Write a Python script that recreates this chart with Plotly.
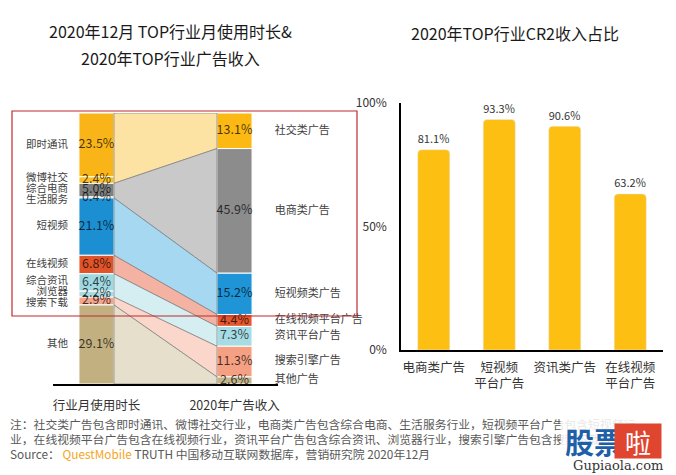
import plotly.graph_objects as go

W, H = 676, 475

# ---------------- data ----------------
left_cats = ["即时通讯", "微博社交", "综合电商", "生活服务", "短视频", "在线视频", "综合资讯", "浏览器", "搜索下载", "其他"]
left_vals = [23.5, 2.4, 5.0, 0.4, 21.1, 6.8, 6.4, 2.2, 2.9, 29.1]
left_group = [0, 0, 1, 1, 2, 3, 4, 4, 5, 6]
left_colors = ["#F9B417", "#FDC020", "#808080", "#8A8A8A", "#1B8FD1", "#E0542A", "#9FD8E0", "#A8DCE4", "#F4A58C", "#C2B080"]

right_cats = ["社交类广告", "电商类广告", "短视频类广告", "在线视频平台广告", "资讯平台广告", "搜索引擎广告", "其他广告"]
right_vals = [13.1, 45.9, 15.2, 4.4, 7.3, 11.3, 2.6]
right_colors = ["#FDB913", "#8C8C8C", "#1F94D6", "#E5572E", "#A8DCE4", "#F6A083", "#C5B48A"]
band_colors = ["#FCE3A4", "#C9C9C9", "#A6D8F2", "#F4B2A3", "#D5EEF2", "#FBD6CB", "#E5DFCC"]

col_labels = ["行业月使用时长", "2020年广告收入"]

cr2_cats = ["电商类广告", "短视频<br>平台广告", "资讯类广告", "在线视频<br>平台广告"]
cr2_vals = [81.1, 93.3, 90.6, 63.2]
cr2_ticks = [0, 50, 100]

FONT = "Noto Sans CJK SC, sans-serif"


def cum_starts(vals):
    s, out = 0.0, []
    for v in vals:
        out.append(s)
        s += v
    return out


def spread(centers, gap):
    pos = list(centers)
    for _ in range(200):
        moved = False
        for i in range(1, len(pos)):
            d = pos[i] - pos[i - 1]
            if d < gap - 1e-6:
                sh = (gap - d) / 2
                pos[i - 1] -= sh
                pos[i] += sh
                moved = True
        if not moved:
            break
    return pos


l_start = cum_starts(left_vals)
r_start = cum_starts(right_vals)
total = max(sum(left_vals), sum(right_vals))
bw = 0.254
unit_px = 271 / total  # pixels per percentage point of the stacked columns

fig = go.Figure()

# ---------------- flow bands ----------------
xl, xr = bw / 2, 1 - bw / 2
for g in range(len(right_vals)):
    idx = [i for i, gg in enumerate(left_group) if gg == g]
    lt = l_start[idx[0]]
    lb = l_start[idx[-1]] + left_vals[idx[-1]]
    rt = r_start[g]
    rb = r_start[g] + right_vals[g]
    fig.add_trace(go.Scatter(
        x=[xl, xr, xr, xl, xl], y=[lt, rt, rb, lb, lt],
        fill="toself", fillcolor=band_colors[g], mode="lines",
        line=dict(color="rgba(110,110,110,0.75)", width=0.8),
        hoverinfo="skip", showlegend=False, xaxis="x", yaxis="y"))

# ---------------- stacked columns ----------------
fig.add_trace(go.Bar(
    x=[0] * len(left_vals), y=left_vals, base=l_start, width=bw,
    marker=dict(color=left_colors, line=dict(color="white", width=1)),
    showlegend=False, hoverinfo="skip", xaxis="x", yaxis="y"))
fig.add_trace(go.Bar(
    x=[1] * len(right_vals), y=right_vals, base=r_start, width=bw,
    marker=dict(color=right_colors, line=dict(color="white", width=1)),
    showlegend=False, hoverinfo="skip", xaxis="x", yaxis="y"))

l_cent = [s + v / 2 for s, v in zip(l_start, left_vals)]
r_cent = [s + v / 2 for s, v in zip(r_start, right_vals)]
fig.add_trace(go.Scatter(
    x=[0] * len(left_vals), y=l_cent, mode="text",
    text=[f"{v:.1f}%" for v in left_vals],
    textfont=dict(family=FONT, size=12.5, color="rgba(0,0,0,0.72)"),
    cliponaxis=False, showlegend=False, hoverinfo="skip", xaxis="x", yaxis="y"))
fig.add_trace(go.Scatter(
    x=[1] * len(right_vals), y=r_cent, mode="text",
    text=[f"{v:.1f}%" for v in right_vals],
    textfont=dict(family=FONT, size=12.5, color="rgba(0,0,0,0.72)"),
    cliponaxis=False, showlegend=False, hoverinfo="skip", xaxis="x", yaxis="y"))

# category labels next to columns (spread so they do not collide)
l_lab = spread(l_cent, 11 / unit_px)
r_lab = spread(r_cent, 15 / unit_px)
fig.add_trace(go.Scatter(
    x=[-bw / 2 - 0.08] * len(left_cats), y=l_lab, mode="text", text=left_cats,
    textposition="middle left",
    textfont=dict(family=FONT, size=10.5, color="#404040"),
    cliponaxis=False, showlegend=False, hoverinfo="skip", xaxis="x", yaxis="y"))
fig.add_trace(go.Scatter(
    x=[1 + bw / 2 + 0.165] * len(right_cats), y=r_lab, mode="text", text=right_cats,
    textposition="middle right",
    textfont=dict(family=FONT, size=11, color="#404040"),
    cliponaxis=False, showlegend=False, hoverinfo="skip", xaxis="x", yaxis="y"))

# ---------------- CR2 bars ----------------
fig.add_trace(go.Bar(
    x=cr2_cats, y=cr2_vals, width=0.49,
    marker=dict(color="#FDBF12", cornerradius=4),
    text=[f"{v:.1f}%" for v in cr2_vals], textposition="outside",
    textfont=dict(family=FONT, size=12.5, color="#333333"),
    cliponaxis=False, showlegend=False, hoverinfo="skip", xaxis="x2", yaxis="y2"))

# ---------------- layout ----------------
def px_x(p):
    return p / W


def px_y(p):
    return 1 - p / H


fig.update_layout(
    width=W, height=H, margin=dict(l=0, r=0, t=0, b=0, autoexpand=False),
    paper_bgcolor="white", plot_bgcolor="white",
    font=dict(family=FONT, color="#333333"),
    barmode="overlay", showlegend=False,
    xaxis=dict(domain=[px_x(53), px_x(278)], range=[-0.315, 1.315],
               showline=True, linecolor="black", linewidth=1.5,
               tickvals=[0, 1], ticktext=col_labels, ticks="",
               tickfont=dict(size=12.5, color="#333333"),
               ticklabelstandoff=9, showgrid=False, zeroline=False,
               automargin=False, anchor="y"),
    yaxis=dict(domain=[px_y(384), px_y(113)], range=[total, 0],
               visible=False, automargin=False, anchor="x"),
    xaxis2=dict(domain=[px_x(401), px_x(663)], range=[-0.5, 3.5],
                type="category", showline=True, linecolor="black", linewidth=1.5,
                ticks="", tickfont=dict(size=12.5, color="#333333"),
                ticklabelstandoff=5, showgrid=False, zeroline=False,
                automargin=False, anchor="y2"),
    yaxis2=dict(domain=[px_y(350), px_y(103)], range=[0, 100],
                showline=True, linecolor="black", linewidth=1.5,
                tickvals=cr2_ticks, ticktext=[f"{t}%" for t in cr2_ticks], ticks="",
                tickfont=dict(size=12, color="#333333"),
                ticklabelstandoff=10, showgrid=False, zeroline=False,
                automargin=False, anchor="x2"),
)

# red highlight rectangle
fig.add_shape(type="rect", xref="paper", yref="paper",
              x0=px_x(12), x1=px_x(357), y0=px_y(316), y1=px_y(111),
              line=dict(color="#C0282D", width=1.2), layer="above")

ann = []
ann.append(dict(text="2020年12月 TOP行业月使用时长&", x=px_x(170), y=px_y(31)))
ann.append(dict(text="2020年TOP行业广告收入", x=px_x(170), y=px_y(58)))
ann.append(dict(text="2020年TOP行业CR2收入占比", x=px_x(515), y=px_y(33)))
for a in ann:
    a.update(xref="paper", yref="paper", xanchor="center", yanchor="middle",
             showarrow=False, font=dict(family=FONT, size=16, color="#1a1a1a"))
    fig.add_annotation(**a)

notes = [
    "注：社交类广告包含即时通讯、微博社交行业，电商类广告包含综合电商、生活服务行业，短视频平台广告包含短视频行",
    "业，在线视频平台广告包含在线视频行业，资讯平台广告包含综合资讯、浏览器行业，搜索引擎广告包含搜索下载行业",
    "Source： <span style='color:#F5A623'>QuestMobile</span> TRUTH 中国移动互联网数据库，营销研究院 2020年12月",
]
for t, yy in zip(notes, [423, 438, 453]):
    fig.add_annotation(text=t, xref="paper", yref="paper", x=px_x(8), y=px_y(yy),
                       xanchor="left", yanchor="middle", showarrow=False,
                       font=dict(family=FONT, size=11.8, color="#595959"))

# site watermark logo
fig.add_annotation(text=" ", xref="paper", yref="paper", x=px_x(560), y=px_y(418),
                   xanchor="left", yanchor="top", width=116, height=56,
                   bgcolor="rgba(255,255,255,0.85)", showarrow=False)
fig.add_annotation(text="<b>股票</b>", xref="paper", yref="paper", x=px_x(594), y=px_y(441),
                   xanchor="center", yanchor="middle", showarrow=False,
                   font=dict(family=FONT, size=29, color="#1F5FA8"))
fig.add_annotation(text="啦", xref="paper", yref="paper", x=px_x(638), y=px_y(441),
                   xanchor="center", yanchor="middle", showarrow=False,
                   width=44, height=32, bgcolor="#E0452F",
                   font=dict(family=FONT, size=26, color="white"))
fig.add_annotation(text="Gupiaola.com", xref="paper", yref="paper", x=px_x(618), y=px_y(465),
                   xanchor="center", yanchor="middle", showarrow=False,
                   font=dict(family="DejaVu Serif", size=13, color="#333333"))

fig.write_html("out.html", config={"displayModeBar": False},
               post_script="document.body.style.margin='0';document.body.style.overflow='hidden';")
